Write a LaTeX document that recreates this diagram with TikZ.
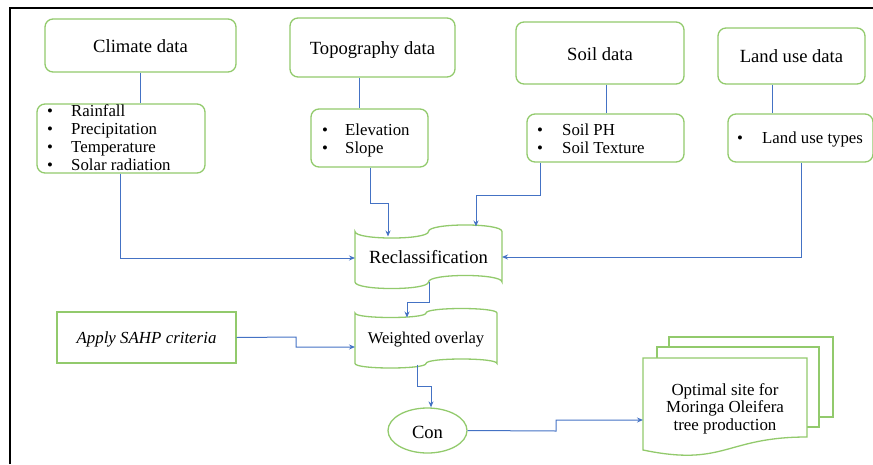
\documentclass[tikz,border=0pt]{standalone}
\usepackage{fontspec}
\setmainfont{Liberation Serif}
\usetikzlibrary{arrows.meta,shapes.geometric}
\definecolor{bgreen}{RGB}{146,202,108}
\definecolor{lblue}{RGB}{68,114,196}
\begin{document}
\begin{tikzpicture}[x=1pt,y=-1pt,
  rbox/.style={draw=bgreen,line width=1.3pt,rounded corners=8pt,inner sep=0pt},
  sbox/.style={draw=bgreen,line width=1.3pt,inner sep=0pt},
  shape line/.style={draw=bgreen,line width=1.3pt,fill=white},
  hdr/.style={inner sep=0pt,anchor=base,font=\fontsize{18.6}{22}\selectfont},
  itm/.style={inner sep=0pt,anchor=base west,font=\fontsize{16.8}{18}\selectfont},
  conn/.style={draw=lblue,line width=1pt,-{Stealth[length=6pt,width=5pt]}},
  plain/.style={draw=lblue,line width=1pt}]
\useasboundingbox (0,0) rectangle (873,464);
% frame
\draw[line width=2.3pt] (10,464) -- (10,8) -- (873,8);

% header boxes
\node[rbox,minimum width=191,minimum height=53] (climate) at (140.5,45.5) {};
\node[hdr] (climatet) at (140.5,52) {Climate data};
\node[rbox,minimum width=165,minimum height=59] (topo) at (372.5,47.5) {};
\node[hdr] (topot) at (372.5,54) {Topography data};
\node[rbox,minimum width=168,minimum height=62] (soil) at (600,53) {};
\node[hdr] (soilt) at (600,60) {Soil data};
\node[rbox,minimum width=147,minimum height=56] (land) at (791.5,56) {};
\node[hdr] (landt) at (791.5,62.5) {Land use data};

% list boxes
\node[rbox,minimum width=168,minimum height=69] (clist) at (121,138.5) {};
\node[itm] (c1b) at (47,116.5) {•};
\node[itm] (c1) at (71,116.5) {Rainfall};
\node[itm] (c2b) at (47,134.5) {•};
\node[itm] (c2) at (71,134.5) {Precipitation};
\node[itm] (c3b) at (47,152.5) {•};
\node[itm] (c3) at (71,152.5) {Temperature};
\node[itm] (c4b) at (47,170.5) {•};
\node[itm] (c4) at (71,170.5) {Solar radiation};

\node[rbox,minimum width=117,minimum height=58] (tlist) at (369.5,138) {};
\node[itm] (t1b) at (322,135) {•};
\node[itm] (t1) at (345,135) {Elevation};
\node[itm] (t2b) at (322,153) {•};
\node[itm] (t2) at (345,153) {Slope};

\node[rbox,minimum width=157,minimum height=48] (slist) at (605.5,138) {};
\node[itm] (s1b) at (537,135) {•};
\node[itm] (s1) at (562,135) {Soil PH};
\node[itm] (s2b) at (537,153) {•};
\node[itm] (s2) at (562,153) {Soil Texture};

\node[rbox,minimum width=145,minimum height=48] (llist) at (800.5,138) {};
\node[itm] (l1b) at (737,143.5) {•};
\node[itm] (l1) at (762,143.5) {Land use types};

% header to list lines
\draw[plain] (climate.south) -- (climate.south |- clist.north);
\draw[plain] ([xshift=-13.5pt]topo.south) -- ([xshift=-13.5pt]topo.south |- tlist.north);
\draw[plain] ([xshift=6pt]soil.south) -- ([xshift=6pt]soil.south |- slist.north);
\draw[plain] ([xshift=-19.5pt]land.south) -- ([xshift=-19.5pt]land.south |- llist.north);

% Reclassification (punched tape)
\path[shape line] (355,231.5) .. controls (355,240.2) and (428.5,240.2) .. (428.5,231.5)
  .. controls (428.5,222.8) and (502,222.8) .. (502,231.5) -- (502,282)
  .. controls (502,273.3) and (428.5,273.3) .. (428.5,282)
  .. controls (428.5,290.7) and (355,290.7) .. (355,282) -- cycle;
\node[hdr] (reclass) at (428.5,263.3) {Reclassification};
\coordinate (rcW) at (355,258);
\coordinate (rcE) at (502,257);
\coordinate (rcT1) at (388,236.5);
\coordinate (rcT2) at (476,226.5);
\coordinate (rcB) at (429,282);

% Weighted overlay (punched tape)
\path[shape line] (355,313) .. controls (355,319) and (426,319) .. (426,313)
  .. controls (426,307) and (497,307) .. (497,313) -- (497,363.5)
  .. controls (497,357.5) and (426,357.5) .. (426,363.5)
  .. controls (426,369.5) and (355,369.5) .. (355,363.5) -- cycle;
\node[inner sep=0pt,anchor=base,font=\fontsize{16.5}{18}\selectfont] (wo) at (426,343.3) {Weighted overlay};
\coordinate (woW) at (355,347);
\coordinate (woT) at (407,317.5);
\coordinate (woB) at (417,364.5);

% Apply SAHP criteria
\node[sbox,minimum width=179,minimum height=51] (sahp) at (146.5,337.5) {};
\node[inner sep=0pt,anchor=base,font=\fontsize{16.9}{18}\selectfont\itshape] (sahpt) at (146.5,343.3) {Apply SAHP criteria};

% Con
\node[ellipse,draw=bgreen,line width=1.3pt,minimum width=79,minimum height=45,inner sep=0pt] (con) at (427.5,430.5) {};
\node[hdr] (cont) at (427.5,438.3) {Con};

% multi-document
\path[shape line] (669,337) rectangle (833,417);
\path[shape line] (657,347) rectangle (819,427);
\path[shape line] (643,358) -- (807,358) -- (807,437)
  .. controls (725,437) and (725,467) .. (643,450) -- cycle;
\node[inner sep=0pt,align=center,font=\fontsize{16.9}{17.5}\selectfont] (out) at (725,408.6) {Optimal site for\\Moringa Oleifera\\tree production};
\coordinate (outW) at (643,420);

% connectors
\draw[conn] ([xshift=-1pt]clist.south) |- (rcW);
\draw[conn] ([xshift=0.5pt]tlist.south) |- (388,203) -- (rcT1);
\draw[conn] ([xshift=-65.5pt]slist.south) |- (476,195) -- (rcT2);
\draw[conn] ([xshift=0.5pt]llist.south) |- (rcE);
\draw[conn] (rcB) -- (429,302) -| (woT);
\draw[conn] (sahp.east) -- (296,337) |- (woW);
\draw[conn] (woB) -- (417,386) -| ([xshift=3.5pt]con.north);
\draw[conn] (con.east) -- (556,431) |- (outW);
\end{tikzpicture}
\end{document}
